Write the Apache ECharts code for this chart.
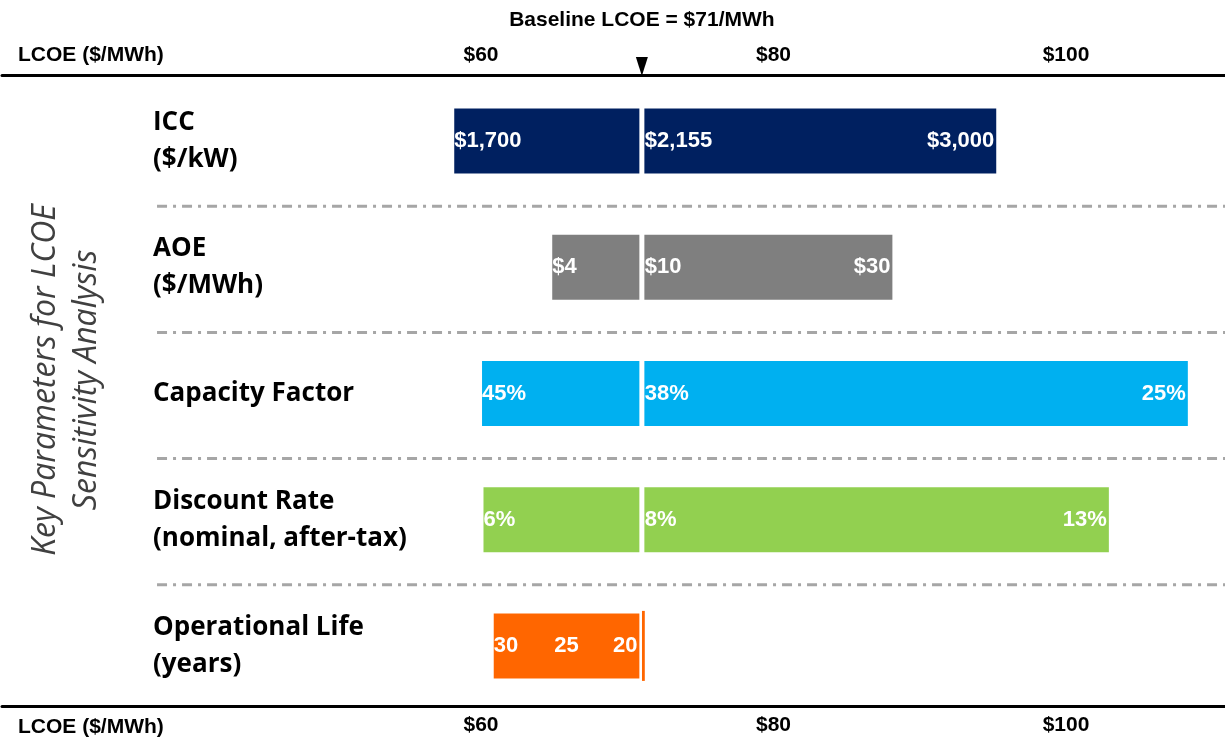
<!DOCTYPE html>
<html>
<head>
    <meta charset="utf-8">
    <title>LCOE Sensitivity</title>
    <script src="https://cdn.jsdelivr.net/npm/echarts@6/dist/echarts.min.js"></script>
    <style>
        html, body { margin: 0; padding: 0; background: #fff; }
        #main { width: 1225px; height: 742px; }
    </style>
</head>
<body>
<div id="main"></div>
<script type="text/javascript">
    // parameters (top to bottom)
    var params = ['ICC\n($/kW)', 'AOE\n($/MWh)', 'Capacity Factor', 'Discount Rate\n(nominal, after-tax)', 'Operational Life\n(years)'];
    // LCOE ($/MWh) at low / high end of each parameter range
    var lcoeLow = [58.0, 64.7, 59.9, 60.0, 60.7];
    var lcoeHigh = [95.4, 88.3, 108.5, 103.1, 71.2];
    var baseline = 71;
    // parameter values shown on the bars
    var lowText = ['$1,700', '$4', '45%', '6%', '30'];
    var baseText = ['$2,155', '$10', '38%', '8%', '25'];
    var highText = ['$3,000', '$30', '25%', '13%', '20'];
    var xTicks = [60, 80, 100];
    var barColors = ['#002060', '#7f7f7f', '#00b0f0', '#92d050', '#ff6600'];
    // dividers sit between the rows
    var dividerAt = [1, 2, 3, 4];
    var dividerStart = 37.85;

    var numFont = '"Liberation Sans", Arial, sans-serif';
    var catFont = '"Open Sans", "DejaVu Sans", sans-serif';

    var mainComponent = document.getElementById('main');
    var myChart = echarts.init(mainComponent);

    // right-hand part too thin to hold its own label
    function narrow(i) {
        return lcoeHigh[i] - baseline < 1;
    }

    var barLabel = { color: '#fff', fontFamily: numFont, fontWeight: 'bold', fontSize: 22 };

    var xAxisCommon = {
        type: 'value',
        min: 27.25,
        max: 110.87,
        splitLine: { show: false },
        axisTick: { show: false },
        axisLine: { show: true, onZero: false, lineStyle: { color: '#000', width: 3 } },
        axisLabel: {
            show: true,
            customValues: xTicks,
            formatter: function (v) { return '$' + v; },
            color: '#000',
            fontFamily: numFont,
            fontWeight: 'bold',
            fontSize: 21,
            margin: 9
        }
    };

    var option = {
        animation: false,
        grid: { left: 2, right: 0, top: 78, bottom: 33 },
        xAxis: [
            echarts.util.merge({ position: 'bottom', offset: -3 }, xAxisCommon, true),
            echarts.util.merge({ position: 'top', offset: 3 }, xAxisCommon, true)
        ],
        yAxis: [
            {
                type: 'category',
                data: params,
                inverse: true,
                axisLine: { show: false },
                axisTick: { show: false },
                splitLine: { show: false },
                axisLabel: {
                    inside: true,
                    margin: 151,
                    align: 'left',
                    color: '#000',
                    fontFamily: catFont,
                    fontWeight: 'bold',
                    fontSize: 26,
                    lineHeight: 37
                }
            },
            { type: 'value', min: 0, max: 5, inverse: true, show: false }
        ],
        series: [
            {
                name: 'base',
                type: 'bar',
                stack: 'lcoe',
                barWidth: 70,
                silent: true,
                itemStyle: { color: 'transparent' },
                data: lcoeLow
            },
            {
                name: 'low side',
                type: 'bar',
                stack: 'lcoe',
                barWidth: 70,
                z: 3,
                data: lcoeLow.map(function (v, i) {
                    return {
                        value: baseline - v,
                        itemStyle: { color: barColors[i] },
                        label: { show: narrow(i), position: 'inside', formatter: baseText[i] }
                    };
                }),
                itemStyle: { borderColor: '#fff', borderWidth: 2.5 },
                label: barLabel
            },
            {
                name: 'high side',
                type: 'bar',
                stack: 'lcoe',
                barWidth: 70,
                z: 2,
                data: lcoeHigh.map(function (v, i) {
                    return {
                        value: v - baseline,
                        itemStyle: { color: barColors[i], borderWidth: narrow(i) ? 0 : 2.5 },
                        label: { show: !narrow(i), formatter: baseText[i] }
                    };
                }),
                itemStyle: { borderColor: '#fff' },
                label: echarts.util.merge({ position: 'insideLeft', distance: 3 }, barLabel)
            },
            {
                name: 'low labels',
                type: 'scatter',
                z: 5,
                silent: true,
                symbolSize: 1,
                itemStyle: { color: 'rgba(0,0,0,0)', opacity: 1 },
                data: lcoeLow.map(function (v, i) { return [v, i]; }),
                label: echarts.util.merge({
                    show: true, position: 'right', distance: 2,
                    formatter: function (p) { return lowText[p.dataIndex]; }
                }, barLabel)
            },
            {
                name: 'high labels',
                type: 'scatter',
                z: 5,
                silent: true,
                symbolSize: 1,
                itemStyle: { color: 'rgba(0,0,0,0)', opacity: 1 },
                data: lcoeHigh.map(function (v, i) { return [narrow(i) ? baseline : v, i]; }),
                label: echarts.util.merge({
                    show: true, position: 'left', distance: 4,
                    formatter: function (p) { return highText[p.dataIndex]; }
                }, barLabel)
            },
            {
                name: 'dividers',
                type: 'custom',
                xAxisIndex: 0,
                yAxisIndex: 1,
                silent: true,
                data: dividerAt.map(function (y) { return [dividerStart, y]; }),
                renderItem: function (params, api) {
                    var start = api.coord([api.value(0), api.value(1)]);
                    var cs = params.coordSys;
                    return {
                        type: 'line',
                        shape: { x1: start[0], y1: start[1] + 2, x2: cs.x + cs.width, y2: start[1] + 2 },
                        style: { stroke: '#a6a6a6', lineWidth: 3, lineDash: [10, 6, 3, 6] }
                    };
                }
            }
        ]
    };

    myChart.setOption(option);

    // baseline marker and text labels
    var bx = myChart.convertToPixel({ xAxisIndex: 1 }, baseline);
    myChart.setOption({
        graphic: [
            {
                type: 'polygon',
                shape: { points: [[bx - 6, 57], [bx + 6, 57], [bx, 76]] },
                style: { fill: '#000' }
            },
            {
                type: 'text',
                x: bx, y: 20,
                style: {
                    text: 'Baseline LCOE = $71/MWh', align: 'center', verticalAlign: 'middle',
                    font: 'bold 21px ' + numFont, fill: '#000'
                }
            },
            {
                type: 'text',
                x: 18, y: 55,
                style: { text: 'LCOE ($/MWh)', verticalAlign: 'middle', font: 'bold 21px ' + numFont, fill: '#000' }
            },
            {
                type: 'text',
                x: 18, y: 727,
                style: { text: 'LCOE ($/MWh)', verticalAlign: 'middle', font: 'bold 21px ' + numFont, fill: '#000' }
            },
            {
                type: 'text',
                x: 66, y: 380,
                rotation: Math.PI / 2,
                style: {
                    text: 'Key Parameters for LCOE\nSensitivity Analysis',
                    align: 'center', verticalAlign: 'middle', lineHeight: 41,
                    font: 'italic 32px "Open Sans", sans-serif', fill: '#404040'
                }
            }
        ]
    });
</script>
</body>
</html>
